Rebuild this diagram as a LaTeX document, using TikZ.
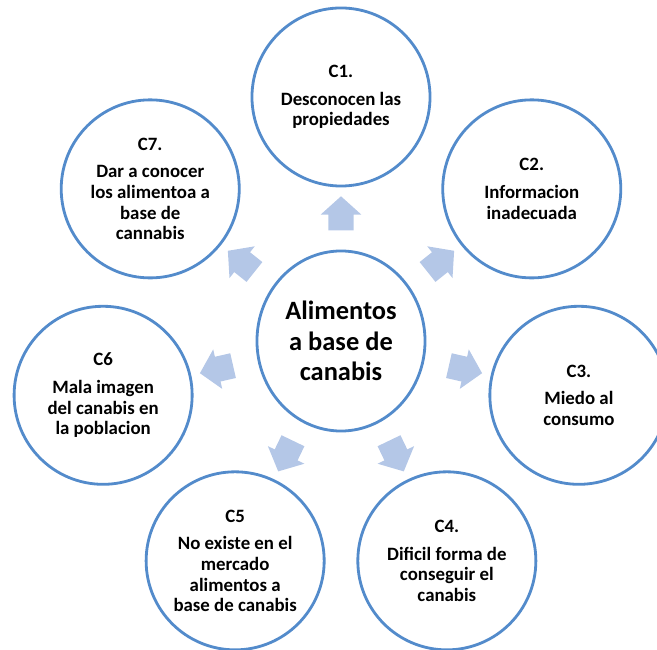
\documentclass[tikz,border=0pt]{standalone}
\usepackage{fontspec}
\setmainfont{Carlito}
\usetikzlibrary{shapes,calc}
\definecolor{ringBlue}{RGB}{83,139,203}
\definecolor{arrBlue}{RGB}{180,199,231}
\newcommand{\shaftR}{\rule{0pt}{0.62cm}}

\begin{document}
\begin{tikzpicture}
  [x=0.025cm,y=0.025cm,
   ringN/.style={draw=ringBlue,line width=2pt,circle,minimum size=4.45cm,inner sep=0pt,
     align=center,font=\fontsize{13.4}{14.7}\selectfont\bfseries},
   centN/.style={ringN,ellipse,minimum width=4.2cm,minimum height=4.5cm,
     font=\fontsize{18.8}{21.5}\selectfont\bfseries},
   arrN/.style={single arrow,fill=arrBlue,draw=none,minimum height=0.85cm,
     single arrow head extend=0.19cm,single arrow tip angle=96,inner sep=0pt},
  ]
 \useasboundingbox (-341,-309) rectangle (316,341);

 \node[centN] (cen) at (0,0) {Alimentos\\a base de\\canabis};

 \node[ringN] (c1) at (90:244) {C1.\\[5pt]Desconocen las\\propiedades};
 \node[ringN] (c2) at (38.57:244) {C2.\\[5pt]Informacion\\inadecuada};
 \node[ringN] (c3) at (-12.86:244) {C3.\\[5pt]Miedo al\\consumo};
 \node[ringN] (c4) at (-64.29:244) {C4.\\[5pt]Dificil forma de\\conseguir el\\canabis};
 \node[ringN] (c5) at (-115.71:244) {C5\\[5pt]No existe en el\\mercado\\alimentos a\\base de canabis};
 \node[ringN] (c6) at (-167.14:244) {C6\\[5pt]Mala imagen\\del canabis en\\la poblacion};
 \node[ringN] (c7) at (141.43:244) {C7.\\[5pt]Dar a conocer\\los alimentoa a\\base de\\cannabis};

 % arrows out of the centre
 \node[arrN,rotate=90] (a1) at ($(cen)!0.5!(c1)$) {\shaftR};
 \node[arrN,rotate=38.57] (a2) at ($(cen)!0.5!(c2)$) {\shaftR};
 \node[arrN,rotate=-12.86] (a3) at ($(cen)!0.5!(c3)$) {\shaftR};
 \node[arrN,rotate=-64.29] (a4) at ($(cen)!0.5!(c4)$) {\shaftR};
 \node[arrN,rotate=-115.71] (a5) at ($(cen)!0.5!(c5)$) {\shaftR};
 \node[arrN,rotate=-167.14] (a6) at ($(cen)!0.5!(c6)$) {\shaftR};
 \node[arrN,rotate=141.43] (a7) at ($(cen)!0.5!(c7)$) {\shaftR};
\end{tikzpicture}
\end{document}
